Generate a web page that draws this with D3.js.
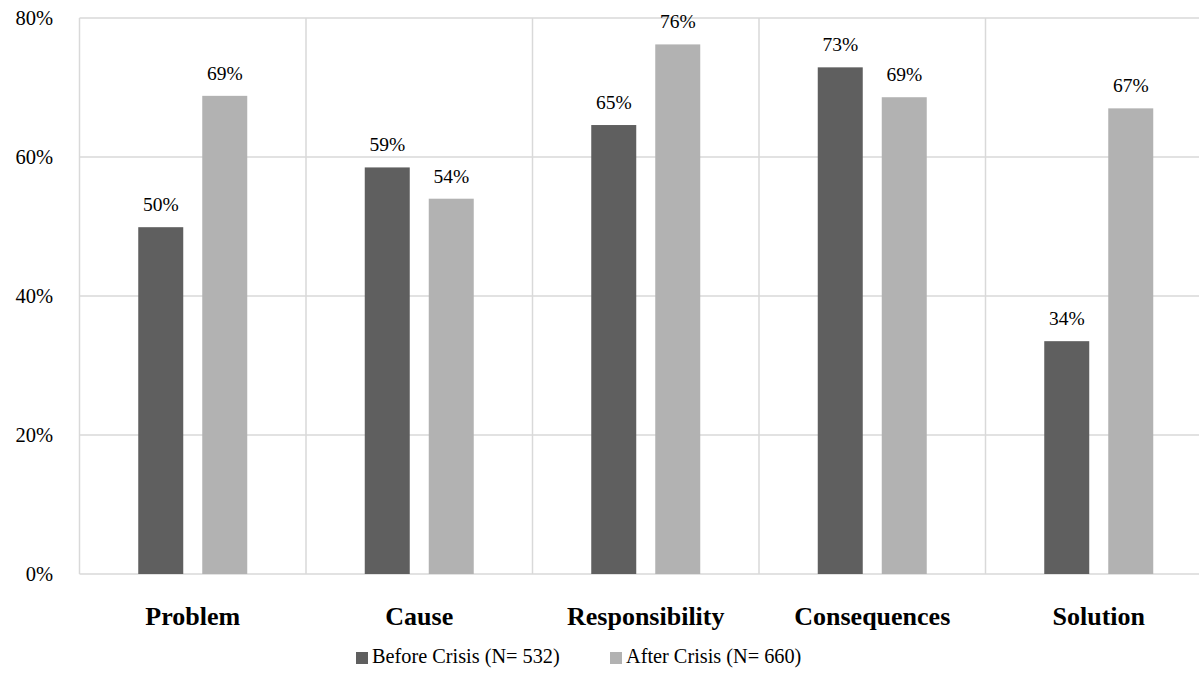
<!DOCTYPE html>
<html>
<head>
<meta charset="utf-8">
<script src="https://cdn.jsdelivr.net/npm/d3@7"></script>
<style>
  html, body { margin: 0; padding: 0; background: #fff; }
  svg { display: block; }
  text { font-family: "Liberation Serif", "Times New Roman", serif; fill: #000; }
</style>
</head>
<body>
<svg id="chart" width="1199" height="694"></svg>
<script>
// Frame elements by crisis period (share of articles)
const categories = ["Problem", "Cause", "Responsibility", "Consequences", "Solution"];
const seriesNames = ["Before Crisis (N= 532)", "After Crisis (N= 660)"];
const beforeValues = [0.499, 0.585, 0.646, 0.729, 0.335];
const afterValues  = [0.688, 0.540, 0.762, 0.686, 0.670];
const yTicks = [0, 0.2, 0.4, 0.6, 0.8];
const seriesColors = ["#5f5f5f", "#b2b2b2"];

const svg = d3.select("#chart");
const plotLeft = 79.5, plotTop = 18, plotBottom = 574;
const catWidth = 226.5;
const gridColor = "#d9d9d9";

const x = d3.scaleBand()
  .domain(categories)
  .range([plotLeft, plotLeft + catWidth * categories.length])
  .paddingInner(0).paddingOuter(0);

const groupWidth = 109;
const xSub = d3.scaleBand()
  .domain([0, 1])
  .range([(catWidth - groupWidth) / 2, (catWidth + groupWidth) / 2])
  .paddingInner(19 / 64).paddingOuter(0);

const y = d3.scaleLinear().domain([0, 0.8]).range([plotBottom, plotTop]);

// horizontal gridlines
svg.append("g").selectAll("line")
  .data(yTicks)
  .join("line")
  .attr("x1", plotLeft).attr("x2", 1199 + 20)
  .attr("y1", d => y(d)).attr("y2", d => y(d))
  .attr("stroke", gridColor).attr("stroke-width", 1.5);

// vertical category separators
svg.append("g").selectAll("line")
  .data(categories)
  .join("line")
  .attr("x1", d => x(d)).attr("x2", d => x(d))
  .attr("y1", y(0.8)).attr("y2", y(0))
  .attr("stroke", gridColor).attr("stroke-width", 1.5);

// y tick labels
const fmtPct = d3.format(".0%");
svg.append("g").selectAll("text")
  .data(yTicks)
  .join("text")
  .attr("x", 53).attr("y", d => y(d) + 7)
  .attr("text-anchor", "end")
  .attr("font-size", 20.5)
  .text(d => fmtPct(d));

// bars
const rows = categories.map((c, i) => ({ cat: c, vals: [beforeValues[i], afterValues[i]] }));
const groups = svg.append("g").selectAll("g")
  .data(rows)
  .join("g")
  .attr("transform", d => `translate(${x(d.cat)},0)`);

groups.selectAll("rect")
  .data(d => d.vals.map((v, s) => ({ v, s })))
  .join("rect")
  .attr("x", d => xSub(d.s))
  .attr("width", xSub.bandwidth())
  .attr("y", d => y(d.v))
  .attr("height", d => y(0) - y(d.v))
  .attr("fill", d => seriesColors[d.s]);

groups.selectAll("text")
  .data(d => d.vals.map((v, s) => ({ v, s })))
  .join("text")
  .attr("x", d => xSub(d.s) + xSub.bandwidth() / 2)
  .attr("y", d => y(d.v) - 16)
  .attr("text-anchor", "middle")
  .attr("font-size", 19.5)
  .text(d => Math.round(d.v * 100) + "%");

// category labels
svg.append("g").selectAll("text")
  .data(categories)
  .join("text")
  .attr("x", d => x(d) + catWidth / 2)
  .attr("y", 625)
  .attr("text-anchor", "middle")
  .attr("font-size", 26)
  .attr("font-weight", "bold")
  .text(d => d);

// legend
const legendItems = [{ name: seriesNames[0], x: 356 }, { name: seriesNames[1], x: 610 }];
const legend = svg.append("g").selectAll("g")
  .data(legendItems)
  .join("g")
  .attr("transform", d => `translate(${d.x},0)`);
legend.append("rect")
  .attr("x", 0).attr("y", 652)
  .attr("width", 12).attr("height", 12)
  .attr("fill", (d, i) => seriesColors[i]);
legend.append("text")
  .attr("x", 16).attr("y", 663)
  .attr("font-size", 20.3)
  .text(d => d.name);
</script>
</body>
</html>
